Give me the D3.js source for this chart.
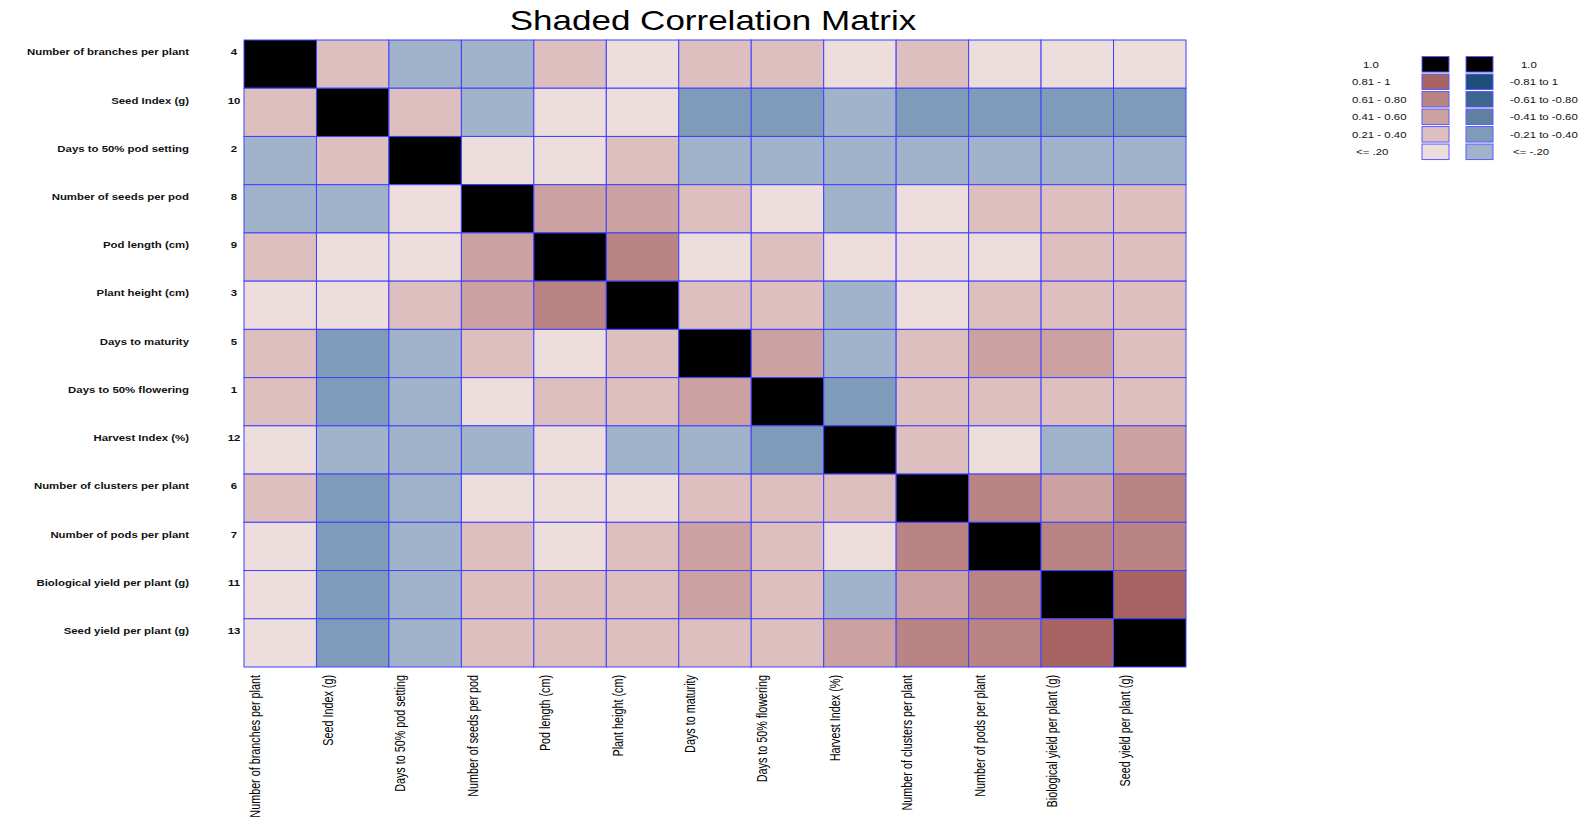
<!DOCTYPE html>
<html>
<head>
<meta charset="utf-8">
<script src="https://cdn.jsdelivr.net/npm/d3@7"></script>
<style>
  html, body { margin: 0; padding: 0; background: #fff; }
  svg { display: block; font-family: "Liberation Sans", Arial, sans-serif; }
</style>
</head>
<body>
<svg id="chart" width="1586" height="823"></svg>
<script>
// ---- DATA ----
const variables = [
  "Number of branches per plant",
  "Seed Index (g)",
  "Days to 50% pod setting",
  "Number of seeds per pod",
  "Pod length (cm)",
  "Plant height (cm)",
  "Days to maturity",
  "Days to 50% flowering",
  "Harvest Index (%)",
  "Number of clusters per plant",
  "Number of pods per plant",
  "Biological yield per plant (g)",
  "Seed yield per plant (g)"
];
const variableNumbers = ["4", "10", "2", "8", "9", "3", "5", "1", "12", "6", "7", "11", "13"];

const correlations = [
  [1, .27, -.12, -.09, .24, .14, .31, .29, .06, .26, .17, .13, .11],
  [.27, 1, .23, -.15, .05, .09, -.33, -.36, -.07, -.28, -.31, -.34, -.29],
  [-.12, .23, 1, .12, .08, .22, -.14, -.18, -.11, -.06, -.13, -.10, -.08],
  [-.09, -.15, .12, 1, .47, .44, .25, .15, -.16, .10, .28, .32, .30],
  [.24, .05, .08, .47, 1, .66, .18, .21, .04, .12, .16, .24, .27],
  [.14, .09, .22, .44, .66, 1, .35, .26, -.17, .19, .33, .29, .31],
  [.31, -.33, -.14, .25, .18, .35, 1, .52, -.12, .37, .48, .54, .39],
  [.29, -.36, -.18, .15, .21, .26, .52, 1, -.26, .34, .30, .36, .32],
  [.06, -.07, -.11, -.16, .04, -.17, -.12, -.26, 1, .28, .14, -.09, .56],
  [.26, -.28, -.06, .10, .12, .19, .37, .34, .28, 1, .72, .58, .68],
  [.17, -.31, -.13, .28, .16, .33, .48, .30, .14, .72, 1, .74, .70],
  [.13, -.34, -.10, .32, .24, .29, .54, .36, -.09, .58, .74, 1, .86],
  [.11, -.29, -.08, .30, .27, .31, .39, .32, .56, .68, .70, .86, 1]
];

const positiveLegendLabels = ["1.0", "0.81 - 1", "0.61 - 0.80", "0.41 - 0.60", "0.21 - 0.40", "<= .20"];
const negativeLegendLabels = ["1.0", "-0.81 to 1", "-0.61 to -0.80", "-0.41 to -0.60", "-0.21 to -0.40", "<= -.20"];
const positiveColors = ["#000000", "#a86463", "#b98483", "#cba1a1", "#ddbfc0", "#eddddd"];
const negativeColors = ["#000000", "#1f4d7a", "#3e6490", "#5f80a3", "#7f9bb9", "#a0b3cb"];
const title = "Shaded Correlation Matrix";

// ---- LAYOUT ----
const svg = d3.select("#chart");
const gridLeft = 244, gridRight = 1186, gridTop = 40, gridBottom = 667;
const hStretch = 1.2;
const gridStroke = "#4040ff";

const x = d3.scaleBand().domain(d3.range(variables.length)).range([gridLeft, gridRight]).padding(0);
const y = d3.scaleBand().domain(d3.range(variables.length)).range([gridTop, gridBottom]).padding(0);

// colour by class
const colorScale = d3.scaleThreshold()
  .domain([-0.8, -0.6, -0.4, -0.2, 0, 0.2, 0.4, 0.6, 0.8, 0.999])
  .range([negativeColors[1], negativeColors[2], negativeColors[3], negativeColors[4], negativeColors[5],
          positiveColors[5], positiveColors[4], positiveColors[3], positiveColors[2], positiveColors[1], positiveColors[0]]);

// Title
svg.append("text")
  .attr("transform", `translate(713,30) scale(1.25,1)`)
  .attr("text-anchor", "middle")
  .attr("font-size", 28)
  .attr("fill", "#000")
  .text(title);

// Cells
const cells = [];
correlations.forEach((row, i) => row.forEach((v, j) => cells.push({ i, j, v })));

svg.append("g").selectAll("rect")
  .data(cells)
  .join("rect")
  .attr("x", d => x(d.j))
  .attr("y", d => y(d.i))
  .attr("width", x.bandwidth())
  .attr("height", y.bandwidth())
  .attr("fill", d => colorScale(d.v))
  .attr("stroke", gridStroke)
  .attr("stroke-width", 1);

// Row labels
const rowG = svg.append("g");
rowG.selectAll("text.rowlab")
  .data(variables)
  .join("text")
  .attr("class", "rowlab")
  .attr("transform", (d, i) => `translate(189,${y(i) + 12}) scale(${hStretch},1)`)
  .attr("dy", "0.35em")
  .attr("text-anchor", "end")
  .attr("font-size", 9.5)
  .attr("font-weight", "bold")
  .attr("fill", "#111")
  .text(d => d);

rowG.selectAll("text.rownum")
  .data(variableNumbers)
  .join("text")
  .attr("class", "rownum")
  .attr("transform", (d, i) => `translate(234,${y(i) + 12}) scale(${hStretch},1)`)
  .attr("dy", "0.35em")
  .attr("text-anchor", "middle")
  .attr("font-size", 9.5)
  .attr("font-weight", "bold")
  .attr("fill", "#111")
  .text(d => d);

// Column labels (rotated, condensed)
svg.append("g").selectAll("text")
  .data(variables)
  .join("text")
  .attr("transform", (d, j) => `translate(${x(j) + 11},675) rotate(-90) scale(0.72,1)`)
  .attr("dy", "0.35em")
  .attr("text-anchor", "end")
  .attr("font-size", 15)
  .attr("fill", "#000")
  .text(d => d);

// Legend
const legendTop = 64.3, legendStep = 17.5, boxH = 15.5, boxW = 27;
const leg = svg.append("g");
const legRows = d3.range(positiveLegendLabels.length);

leg.selectAll("rect.pos")
  .data(legRows)
  .join("rect")
  .attr("class", "pos")
  .attr("x", 1422)
  .attr("y", i => legendTop + i * legendStep - boxH / 2)
  .attr("width", boxW)
  .attr("height", boxH)
  .attr("fill", i => positiveColors[i])
  .attr("stroke", "#5a5aff")
  .attr("stroke-width", 1);

leg.selectAll("rect.neg")
  .data(legRows)
  .join("rect")
  .attr("class", "neg")
  .attr("x", 1466)
  .attr("y", i => legendTop + i * legendStep - boxH / 2)
  .attr("width", boxW)
  .attr("height", boxH)
  .attr("fill", i => negativeColors[i])
  .attr("stroke", "#5a5aff")
  .attr("stroke-width", 1);

const posIndent = i => (i === 0 ? 11 : i === positiveLegendLabels.length - 1 ? 4 : 0);
const negIndent = i => (i === 0 ? 11 : i === negativeLegendLabels.length - 1 ? 3 : 0);

leg.selectAll("text.pos")
  .data(positiveLegendLabels)
  .join("text")
  .attr("class", "pos")
  .attr("transform", (d, i) => `translate(${1352 + posIndent(i)},${legendTop + i * legendStep}) scale(${hStretch},1)`)
  .attr("dy", "0.35em")
  .attr("font-size", 9.5)
  .attr("fill", "#111")
  .text(d => d);

leg.selectAll("text.neg")
  .data(negativeLegendLabels)
  .join("text")
  .attr("class", "neg")
  .attr("transform", (d, i) => `translate(${1510 + negIndent(i)},${legendTop + i * legendStep}) scale(${hStretch},1)`)
  .attr("dy", "0.35em")
  .attr("font-size", 9.5)
  .attr("fill", "#111")
  .text(d => d);
</script>
</body>
</html>
